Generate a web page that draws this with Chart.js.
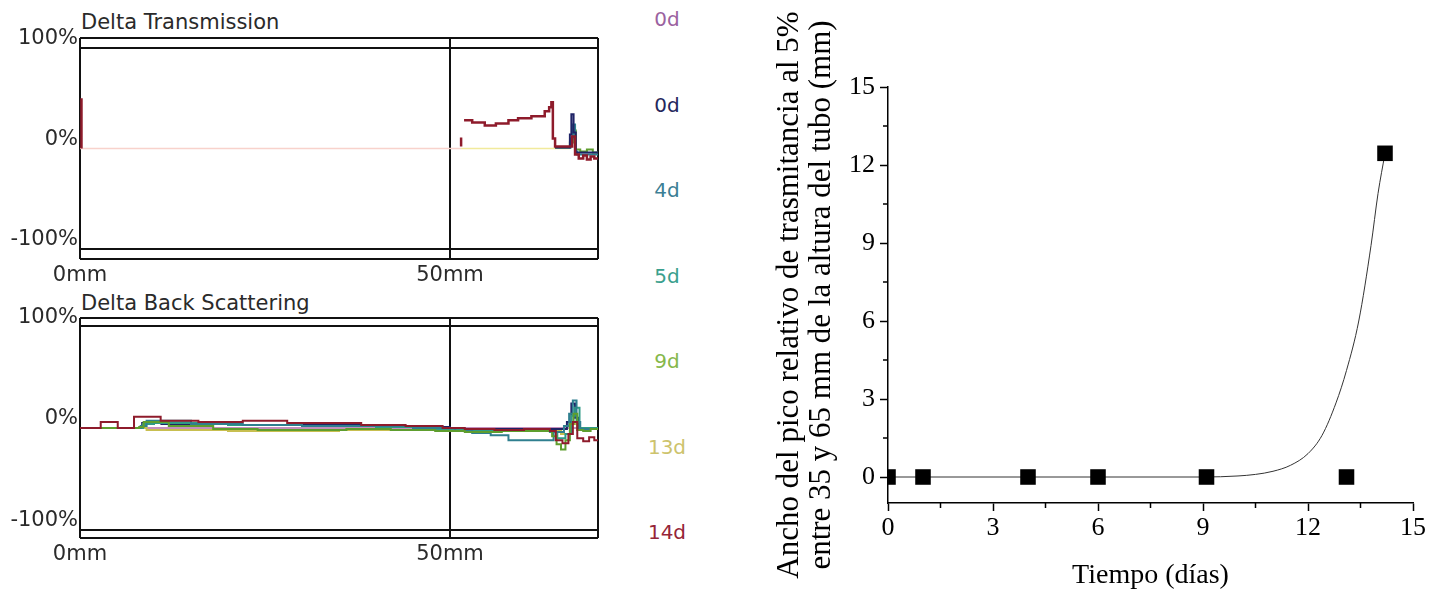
<!DOCTYPE html>
<html>
<head>
<meta charset="utf-8">
<script src="https://cdn.jsdelivr.net/npm/chart.js@4.4.0/dist/chart.umd.min.js"></script>
<style>
  body { margin: 0; background: #fff; width: 1429px; height: 592px; overflow: hidden; position: relative; font-family: "DejaVu Sans", sans-serif; }
  canvas { position: absolute; }
  .ttl { position: absolute; left: 81px; font-size: 21px; line-height: 24px; color: #2a2a2a; white-space: nowrap; }
  .day { position: absolute; left: 637px; width: 60px; text-align: center; font-size: 20px; line-height: 24px; }
</style>
</head>
<body>
<div class="ttl" style="top:10px">Delta Transmission</div>
<div class="ttl" style="top:291px">Delta Back Scattering</div>
<div id="days"></div>
<canvas id="trans" width="640" height="290" style="left:0;top:0"></canvas>
<canvas id="back" width="640" height="290" style="left:0;top:280px"></canvas>
<canvas id="growth" width="669" height="592" style="left:760px;top:0"></canvas>
<script>
// legend column
const dayLabels = ['0d', '0d', '4d', '5d', '9d', '13d', '14d'];
const dayColors = ['#9b62a0', '#25285c', '#3c7f95', '#3aa08d', '#86b84b', '#cdc36c', '#962538'];

// profile axes
const mmTicks = [0, 50, 70];
const mmLabels = ['0mm', '50mm', ''];

// Delta Transmission profiles (mm, %)
const t14mm = [0.2, 0.2, 0.5, 51.5, 51.5, 51.7, 51.9, 53, 54.7, 56.2, 57.9, 59.2, 61, 62.8, 63.4, 63.7, 63.9, 64.2, 66.1, 66.5, 66.9, 67.4, 68, 68.5, 69, 69.5, 70];
const t14pct = [0, 50, null, 2, 11, null, 28, 26, 23, 25, 28, 30, 32, 37, 41, 46, 10, 2, 2, 12, -6, -10, -7, -11, -8, -10, -9];
const t0nmm = [64.2, 66.2, 66.4, 66.7, 67, 70];
const t0npct = [1, 14, 34, 16, -4, -4];
const t4mm = [64.2, 66.3, 66.6, 66.9, 67.2, 70];
const t4pct = [1, 10, 24, -3, -6, -5];
const t9mm = [64.2, 66.2, 66.6, 67, 67.6, 68.5, 69.3, 70];
const t9pct = [1, 6, 18, -1, -3, -1, -4, -3];
const t13mm = [51.5, 66.2];
const t13pct = [0, 0];
const t0mm = [0, 51.5];
const t0pct = [0, 0];

// Delta Back Scattering profiles (mm, %)
const b14mm = [0, 2.8, 5.1, 7.3, 10.9, 16, 22, 28, 33, 38, 44, 49, 52, 56, 60, 63.5, 64.3, 65.2, 66, 66.6, 67.2, 68, 68.8, 69.5, 70];
const b14pct = [0, 6, 0, 11, 7, 6, 7, 5, 5, 3, 2, 0, -1, -2, -1, -3, -12, -15, -6, 6, -10, -13, -9, -12, -11];
const b9mm = [0, 8, 8.6, 12, 18, 24, 30, 36, 42, 48, 52, 57, 61.5, 63.8, 64.4, 65, 65.6, 66.2, 66.7, 67.2, 68, 69, 70];
const b9pct = [0, 1, 6, 2, -1, -2, -2, -1, -2, -3, -4, -3, -3, -8, -16, -21, -12, 4, 14, -2, -3, -1, -2];
const b4mm = [0, 8.2, 9, 15, 22, 30, 38, 45, 50.7, 53, 55.5, 57.9, 63.3, 64, 65.4, 66.1, 66.6, 67.1, 67.6, 70];
const b4pct = [0, 2, 7, 4, 3, 2, 2, 0, -3, -5, -7, -12, -12, -4, 2, 14, 27, 6, -1, -1];
const b5mm = [0, 8.5, 10, 20, 30, 40, 47, 50, 54, 60, 63.5, 64.5, 65.6, 66.4, 66.9, 67.5, 70];
const b5pct = [0, 4, 5, 3, 2, 1, -1, -2, -3, -3, -4, -10, -6, 12, 20, 0, 0];
const b13mm = [0, 9, 20, 35, 50, 58, 63, 65, 66.5, 67.5, 70];
const b13pct = [0, -2, -3, -2, -1, -2, -3, -6, 4, -1, -1];
const b0nmm = [0, 8.4, 11, 20, 30, 42, 50, 56, 62, 65.8, 66.4, 66.9, 67.4, 70];
const b0npct = [0, 5, 4, 3, 3, 1, -1, -1, -1, 6, 24, 10, -1, -1];
const b0mm = [0, 70];
const b0pct = [0, 0];

// peak width vs time
const dayPoints = [0, 1, 4, 6, 9.1, 13.1, 14.2];
const widthPoints = [0, 0, 0, 0, 0, 0, 12.45];
const fitDays = [0, 9, 10, 10.5, 11, 11.5, 12, 12.4, 12.8, 13.1, 13.45, 13.8, 14.0, 14.2];
const fitWidth = [0, 0, 0.04, 0.1, 0.22, 0.45, 0.9, 1.6, 2.85, 4.1, 6.0, 8.9, 10.9, 12.45];
const dayTicks = [0, 3, 6, 9, 12, 15];
const dayMinor = [1.5, 4.5, 7.5, 10.5, 13.5];
const widthTicks = [0, 3, 6, 9, 12, 15];
const widthMinor = [1.5, 4.5, 7.5, 10.5, 13.5];

const days = document.getElementById('days');
dayLabels.forEach((txt, i) => {
    const d = document.createElement('div');
    d.className = 'day';
    d.style.top = (7 + i * 85.5) + 'px';
    d.style.color = dayColors[i];
    d.textContent = txt;
    days.appendChild(d);
});

const sansFont = { family: 'DejaVu Sans', size: 21 };
const serifFont = { family: 'Liberation Serif', size: 26 };

function line(mm, pct, color, width) {
    return {
        data: mm.map((x, i) => ({ x: x, y: pct[i] })),
        borderColor: color,
        borderWidth: width || 2,
        stepped: true,
        pointRadius: 0,
        spanGaps: false,
        fill: false,
    };
}

function profileChart(id, datasets, range, axisH) {
    const pctTicks = [-range, -100, 0, 100, range];
    return new Chart(document.getElementById(id), {
        type: 'line',
        data: { datasets: datasets },
        options: {
            responsive: false,
            animation: false,
            events: [],
            layout: { padding: { top: 38, right: 42, left: 0, bottom: 0 } },
            plugins: { legend: { display: false }, tooltip: { enabled: false } },
            scales: {
                x: {
                    type: 'linear', min: 0, max: 70,
                    afterBuildTicks: axis => { axis.ticks = mmTicks.map(v => ({ value: v })); },
                    afterFit: axis => { axis.height = axisH; },
                    ticks: {
                        callback: v => mmLabels[mmTicks.indexOf(v)],
                        font: sansFont, color: '#2a2a2a', padding: 4,
                        maxRotation: 0, autoSkip: false,
                    },
                    grid: { color: '#111', lineWidth: 2, drawTicks: false },
                    border: { display: false },
                },
                y: {
                    min: -range, max: range,
                    afterBuildTicks: axis => { axis.ticks = pctTicks.map(v => ({ value: v })); },
                    afterFit: axis => { axis.width = 80; },
                    ticks: {
                        callback: v => (Math.abs(v) === range ? '' : v + '%'),
                        font: sansFont, color: '#2a2a2a', padding: 2, labelOffset: -9,
                    },
                    grid: {
                        color: ctx => (ctx.tick && ctx.tick.value === 0 ? 'rgba(0,0,0,0)' : '#111'),
                        lineWidth: 2, drawTicks: false,
                    },
                    border: { display: false },
                },
            },
        },
    });
}

profileChart('trans', [
    line(t14mm, t14pct, '#8e1b2b', 2.5),
    line(t0nmm, t0npct, '#1f2366'),
    line(t4mm, t4pct, '#2f7f8f'),
    line(t9mm, t9pct, '#5e9e2e'),
    line(t13mm, t13pct, '#f1ea9c', 1.5),
    line(t0mm, t0pct, '#f8d2cc', 1.5),
], 110, 31);

profileChart('back', [
    line(b14mm, b14pct, '#8e1b2b'),
    line(b9mm, b9pct, '#5e9e2e'),
    line(b4mm, b4pct, '#2f7f8f'),
    line(b5mm, b5pct, '#2f9a85'),
    line(b0nmm, b0npct, '#1f2366'),
    line(b13mm, b13pct, '#c8bf50'),
    line(b0mm, b0pct, '#b06aa8', 1.5),
], 108, 32);

const minorTicks = {
    id: 'minorTicks',
    afterDraw(chart) {
        const { ctx, scales: { x, y } } = chart;
        ctx.save();
        ctx.strokeStyle = '#000';
        ctx.lineWidth = 1.5;
        ctx.beginPath();
        dayMinor.forEach(v => {
            const px = x.getPixelForValue(v);
            ctx.moveTo(px, x.top);
            ctx.lineTo(px, x.top + 5);
        });
        widthMinor.forEach(v => {
            const py = y.getPixelForValue(v);
            ctx.moveTo(y.right, py);
            ctx.lineTo(y.right - 5, py);
        });
        ctx.stroke();
        ctx.restore();
    },
};

new Chart(document.getElementById('growth'), {
    type: 'line',
    data: {
        datasets: [
            {
                data: dayPoints.map((x, i) => ({ x: x, y: widthPoints[i] })),
                showLine: false,
                pointStyle: 'rect',
                pointRadius: 11,
                pointBackgroundColor: '#000',
                pointBorderColor: '#000',
                pointBorderWidth: 0,
                clip: { left: 0, top: false, right: false, bottom: false },
            },
            {
                data: fitDays.map((x, i) => ({ x: x, y: fitWidth[i] })),
                borderColor: '#333',
                borderWidth: 1,
                pointRadius: 0,
                cubicInterpolationMode: 'monotone',
                fill: false,
            },
        ],
    },
    options: {
        responsive: false,
        animation: false,
        events: [],
        layout: { padding: { top: 87, right: 16, left: 0, bottom: 0 } },
        plugins: { legend: { display: false }, tooltip: { enabled: false } },
        scales: {
            x: {
                type: 'linear', min: 0, max: 15,
                afterBuildTicks: axis => { axis.ticks = dayTicks.map(v => ({ value: v })); },
                afterFit: axis => { axis.height = 89; },
                ticks: { font: serifFont, color: '#000', padding: 2, maxRotation: 0, autoSkip: false },
                grid: { drawOnChartArea: false, drawTicks: true, tickLength: 8, tickWidth: 1.5, tickColor: '#000' },
                border: { display: true, color: '#000', width: 1.5 },
                title: {
                    display: true, text: 'Tiempo (días)', color: '#000',
                    font: { family: 'Liberation Serif', size: 28 }, padding: { top: 4, bottom: 0 },
                },
            },
            y: {
                min: -1, max: 15,
                afterBuildTicks: axis => { axis.ticks = widthTicks.map(v => ({ value: v })); },
                afterFit: axis => { axis.width = 128; },
                ticks: { font: serifFont, color: '#000', padding: 5 },
                grid: { drawOnChartArea: false, drawTicks: true, tickLength: 8, tickWidth: 1.5, tickColor: '#000' },
                border: { display: true, color: '#000', width: 1.5 },
                title: {
                    display: true,
                    text: ['Ancho del pico relativo de trasmitancia al 5%', 'entre 35 y 65 mm de la altura del tubo (mm)'],
                    color: '#000',
                    font: { family: 'Liberation Serif', size: 31, lineHeight: 1.03 },
                    padding: { top: 14, bottom: 0 },
                },
            },
        },
    },
    plugins: [minorTicks],
});
</script>
</body>
</html>
